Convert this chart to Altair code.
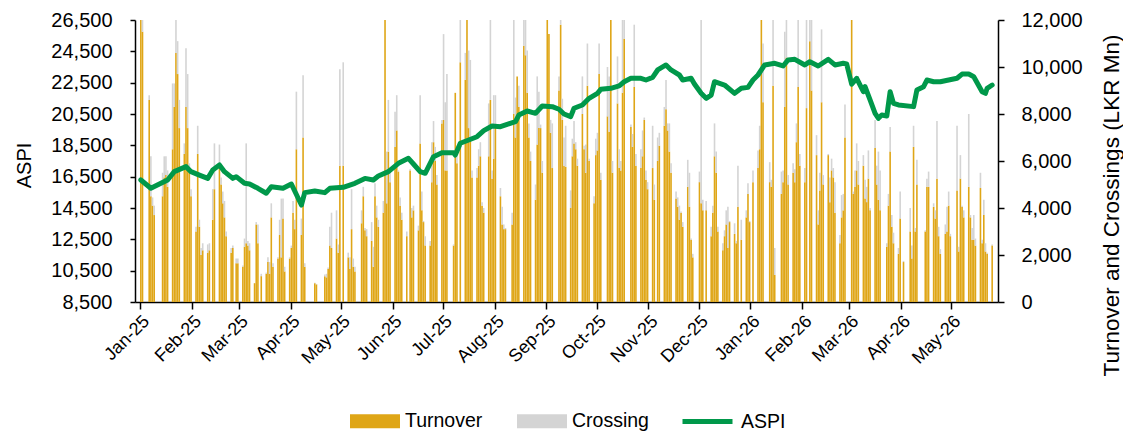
import altair as alt
import pandas as pd

GOLD = "#DFA617"
GRAY = "#D4D4D4"
GREEN = "#00984A"
FONT = "Liberation Sans"

# ---- tick labels -------------------------------------------------------
month_ticks = ["2025-01", "2025-02", "2025-03", "2025-04", "2025-05", "2025-06",
               "2025-07", "2025-08", "2025-09", "2025-10", "2025-11", "2025-12",
               "2026-01", "2026-02", "2026-03", "2026-04", "2026-05"]
aspi_ticks = [8500, 10500, 12500, 14500, 16500, 18500, 20500, 22500, 24500, 26500]
value_ticks = [0, 2000, 4000, 6000, 8000, 10000, 12000]

# ---- daily turnover / crossing (LKR Mn), one row per Mon-Fri week ------
turnover_weeks = [
    [12000, 11500, 0],
    [8600, 4500, 4100, 3700, 0],
    [0, 4500, 5300, 5400, 4900],
    [6500, 8300, 10600, 9700, 7400],
    [6300, 8300, 7400, 5600, 4500],
    [3000, 6300, 3200, 2000, 2200],
    [2100, 2200, 0, 3500, 4800],
    [5700, 5000, 4200, 3600, 2800],
    [2100, 2300, 0, 1650, 1650],
    [1500, 2350, 2500, 2400, 2200],
    [800, 3300, 2500, 0, 1100],
    [1200, 1700, 1200, 3600, 1500],
    [1850, 2850, 1900, 3550, 1300],
    [1850, 2300, 3800, 3100, 6500],
    [2850, 7000, 1500, 0, 0],
    [0, 800, 750, 0, 0],
    [1100, 1050, 1400, 2400, 2300],
    [2700, 2100, 5800, 0, 5800],
    [1900, 1400, 3100, 1500, 1300],
    [0, 3350, 4500, 3050, 2800],
    [2600, 1500, 4500, 3600, 3200],
    [3800, 12000, 4200, 6400, 5100],
    [6600, 7300, 5550, 4100, 3500],
    [2800, 0, 5600, 3600, 3900],
    [3050, 6750, 3900, 3400, 2400],
    [2400, 5100, 6800, 6000, 5000],
    [7600, 7750, 5600, 5600, 0],
    [2400, 8900, 5900, 0, 10200],
    [9450, 12000, 7400, 6900, 5300],
    [5300, 5800, 6200, 4100, 3800],
    [6200, 8600, 5250, 6100, 7500],
    [4500, 3300, 3100, 3100, 0],
    [3300, 8000, 7000, 9600, 8300],
    [10900, 10500, 8900, 7000, 6000],
    [4350, 6700, 7400, 7400, 5500],
    [12000, 11400, 7200, 5700, 0],
    [9000, 11800, 7750, 5800, 5750],
    [4000, 6200, 6750, 6500, 5800],
    [8000, 6500, 5500, 9200, 6000],
    [4200, 6250, 6450, 9700, 5200],
    [0, 7900, 7250, 12000, 5500],
    [8450, 5700, 5600, 8900, 11200],
    [0, 7450, 6600, 9150, 5800],
    [5700, 6200, 7750, 5200, 4800],
    [5700, 4350, 0, 6000, 6650],
    [7500, 8200, 7300, 6400, 5500],
    [4400, 4050, 3500, 3800, 3200],
    [4900, 4050, 2650, 1900, 0],
    [5100, 4200, 3900, 0, 3900],
    [2800, 3800, 6200, 5500, 3000],
    [2200, 2800, 3300, 2300, 3400],
    [2900, 2500, 4050, 0, 2650],
    [3600, 4600, 3400, 0, 5100],
    [5700, 6500, 12000, 8500, 0],
    [5100, 4900, 9200, 1150, 0],
    [4600, 5100, 8300, 10400, 5000],
    [5500, 5100, 6800, 9150, 5800],
    [5100, 8250, 0, 11100, 9000],
    [6250, 3300, 4750, 8500, 5000],
    [6250, 4250, 5600, 5300, 3800],
    [2500, 3600, 3900, 7000, 0],
    [12000, 4600, 4900, 5600, 5000],
    [5800, 4400, 4250, 5250, 3900],
    [6550, 5000, 4350, 3900, 0],
    [2350, 4100, 6400, 3200, 2500],
    [2050, 3550, 0, 1700, 0],
    [3000, 1850, 6600, 3000, 5000],
    [0, 0, 3000, 4900, 4900],
    [4050, 3550, 5250, 2800, 2050],
    [2900, 3000, 4100, 2800, 0],
    [4750, 2150, 5250, 4050, 3600],
    [4900, 3600, 2650, 2650, 2400],
    [4850, 2500, 3700, 2150, 2050],
    [2400],
]
crossing_weeks = [
    [400, 500, 0],
    [200, 1700, 350, 400, 0],
    [0, 1000, 900, 800, 700],
    [2800, 1000, 1600, 1400, 1200],
    [450, 2500, 2300, 300, 300],
    [200, 1200, 300, 300, 300],
    [350, 300, 0, 1300, 1950],
    [1000, 300, 500, 700, 200],
    [200, 100, 0, 200, 200],
    [50, 350, 4250, 200, 300],
    [0, 100, 800, 0, 100],
    [50, 200, 500, 600, 150],
    [50, 650, 2500, 850, 200],
    [50, 100, 500, 400, 2450],
    [700, 2650, 150, 0, 0],
    [0, 20, 20, 0, 0],
    [70, 150, 70, 800, 1500],
    [1200, 350, 4100, 0, 4400],
    [200, 500, 1700, 350, 200],
    [0, 550, 400, 100, 300],
    [800, 850, 550, 500, 300],
    [500, 0, 2200, 2200, 500],
    [1500, 1500, 50, 350, 300],
    [200, 0, 50, 400, 200],
    [200, 2050, 800, 50, 400],
    [200, 1700, 900, 600, 400],
    [150, 3650, 2900, 4100, 0],
    [50, 0, 300, 0, 1800],
    [1150, 0, 3300, 3400, 300],
    [400, 700, 600, 150, 200],
    [2250, 3400, 350, 2700, 1300],
    [350, 750, 200, 50, 0],
    [500, 4000, 1700, 0, 900],
    [1100, 1500, 1800, 600, 400],
    [650, 2900, 1550, 150, 500],
    [0, 0, 550, 1900, 0],
    [600, 200, 900, 1200, 1750],
    [750, 750, 950, 300, 300],
    [1600, 150, 1200, 1800, 100],
    [300, 700, 750, 1300, 300],
    [0, 2100, 2350, 0, 500],
    [2000, 800, 400, 3100, 800],
    [0, 100, 550, 2650, 500],
    [800, 1100, 100, 400, 300],
    [1800, 650, 0, 1000, 550],
    [800, 1250, 300, 1200, 400],
    [300, 400, 600, 50, 200],
    [1150, 1450, 50, 150, 0],
    [450, 7800, 450, 0, 400],
    [400, 300, 1400, 900, 200],
    [300, 250, 600, 1750, 50],
    [450, 100, 1750, 0, 850],
    [300, 450, 50, 0, 500],
    [750, 1000, 0, 2500, 0],
    [850, 300, 2800, 1150, 0],
    [950, 500, 3200, 1600, 400],
    [400, 550, 800, 2850, 500],
    [600, 3750, 0, 900, 3000],
    [850, 600, 750, 3100, 400],
    [50, 1050, 500, 400, 1300],
    [350, 950, 700, 1400, 0],
    [0, 100, 700, 1150, 1000],
    [450, 800, 650, 1200, 100],
    [1200, 800, 2050, 1700, 0],
    [150, 500, 1050, 500, 450],
    [250, 1150, 0, 50, 0],
    [1000, 550, 900, 150, 1050],
    [0, 0, 50, 350, 650],
    [150, 350, 2450, 400, 200],
    [400, 1050, 600, 100, 0],
    [2750, 200, 1000, 50, 300],
    [3100, 100, 500, 1050, 300],
    [650, 150, 650, 350, 50],
    [50],
]

# ---- ASPI index readings ------------------------------------------------
aspi_dates = [
    "2025-01-01", "2025-01-07", "2025-01-13", "2025-01-17", "2025-01-21", "2025-01-28",
    "2025-01-31", "2025-02-05", "2025-02-10", "2025-02-13", "2025-02-17", "2025-02-20",
    "2025-02-25", "2025-02-27", "2025-03-04", "2025-03-07", "2025-03-12", "2025-03-17",
    "2025-03-20", "2025-03-27", "2025-04-01", "2025-04-07", "2025-04-09", "2025-04-15",
    "2025-04-21", "2025-04-24", "2025-05-02", "2025-05-09", "2025-05-15", "2025-05-20",
    "2025-05-23", "2025-05-29", "2025-06-04", "2025-06-10", "2025-06-13", "2025-06-17",
    "2025-06-20", "2025-06-25", "2025-06-30", "2025-07-07", "2025-07-08", "2025-07-11",
    "2025-07-16", "2025-07-21", "2025-07-25", "2025-07-30", "2025-08-04", "2025-08-08",
    "2025-08-13", "2025-08-15", "2025-08-20", "2025-08-25", "2025-08-29", "2025-09-04",
    "2025-09-08", "2025-09-11", "2025-09-15", "2025-09-17", "2025-09-22", "2025-09-26",
    "2025-10-01", "2025-10-03", "2025-10-09", "2025-10-14", "2025-10-17", "2025-10-21",
    "2025-10-27", "2025-10-30", "2025-11-03", "2025-11-06", "2025-11-11", "2025-11-14",
    "2025-11-19", "2025-11-21", "2025-11-26", "2025-11-28", "2025-12-02", "2025-12-05",
    "2025-12-08", "2025-12-10", "2025-12-16", "2025-12-22", "2025-12-26", "2025-12-30",
    "2026-01-02", "2026-01-05", "2026-01-09", "2026-01-15", "2026-01-20", "2026-01-23",
    "2026-01-27", "2026-02-02", "2026-02-05", "2026-02-10", "2026-02-16", "2026-02-20",
    "2026-02-25", "2026-02-27", "2026-03-02", "2026-03-05", "2026-03-09", "2026-03-10",
    "2026-03-13", "2026-03-16", "2026-03-18", "2026-03-20", "2026-03-23", "2026-03-25",
    "2026-03-27", "2026-03-30", "2026-04-08", "2026-04-10", "2026-04-14", "2026-04-16",
    "2026-04-20", "2026-04-24", "2026-04-29", "2026-05-04", "2026-05-07", "2026-05-11",
    "2026-05-14", "2026-05-19", "2026-05-21", "2026-05-22", "2026-05-25",
]
aspi_values = [
    16290, 15760, 16080, 16290, 16820, 17140,
    16820, 16600, 16390, 16925, 17245, 16820,
    16390, 16500, 16076, 16030, 15757, 15440,
    15860, 15757, 16030, 14690, 15480, 15585,
    15480, 15757, 15820, 16076, 16390, 16290,
    16540, 16820, 17350, 17670, 17310, 16820,
    16715, 17775, 18030, 18030, 17880, 18630,
    18840, 19050, 19435, 19735, 19690, 19840,
    20010, 20435, 20690, 20545, 21010, 20970,
    20800, 20500, 20330, 20865, 21075, 21500,
    21820, 22075, 22140, 22290, 22560, 22780,
    22780, 22670, 22840, 23310, 23630, 23310,
    22990, 22670, 22780, 22415, 21820, 21500,
    21710, 22560, 22350, 21820, 22140, 22200,
    22670, 22990, 23630, 23735, 23565, 23950,
    23990, 23630, 23840, 23565, 23990, 23630,
    23735, 23700, 22400, 22780, 21925, 22245,
    21395, 20545, 20225, 20435, 20370, 21925,
    21180, 21075, 20970, 22030, 22245, 22670,
    22560, 22560, 22670, 22780, 23050, 23050,
    22880, 21925, 21820, 22140, 22350,
]

# ---- tables --------------------------------------------------------------
turnover = [v for w in turnover_weeks for v in w]
crossing = [v for w in crossing_weeks for v in w]
trade_dates = pd.bdate_range("2025-01-01", "2026-05-25")
n = min(len(trade_dates), len(turnover), len(crossing))

rows = []
for d, t, c in zip(trade_dates[:n], turnover[:n], crossing[:n]):
    ds = d.strftime("%Y-%m-%dT12:00:00")
    if t > 0:
        rows.append({"date": ds, "series": "Turnover", "value": t, "ord": 0})
    if c > 0:
        rows.append({"date": ds, "series": "Crossing", "value": c, "ord": 1})
bars_df = pd.DataFrame(rows)

aspi_df = pd.DataFrame({
    "date": [d + "T12:00:00" for d in aspi_dates],
    "aspi": aspi_values,
    "name": ["ASPI"] * len(aspi_values),
})

# ---- encodings -------------------------------------------------------------
x_scale = alt.Scale(domain=[alt.DateTime(year=2025, month=1, date=1),
                            alt.DateTime(year=2026, month=5, date=26)])
x_axis = alt.Axis(
    values=[alt.DateTime(year=int(m[:4]), month=int(m[5:]), date=1) for m in month_ticks],
    format="%b-%y", labelAngle=-45, labelAlign="right", labelBaseline="top",
    labelFontSize=18, labelPadding=3, tickSize=7, title=None, grid=False,
    labelOverlap=False, labelBound=False, labelFlush=False,
)

bars = alt.Chart(bars_df).mark_bar(size=1.6, clip=True).encode(
    x=alt.X("date:T", scale=x_scale, axis=x_axis),
    y=alt.Y("value:Q", stack="zero",
            scale=alt.Scale(domain=[0, 12000], nice=False),
            axis=alt.Axis(orient="right", values=value_ticks, format=",d",
                          title="Turnover and Crossings (LKR Mn)",
                          titleAngle=270, titleX=113, titleY=185,
                          titleAlign="center", titleBaseline="middle",
                          titleFontSize=22.5, titleFontWeight="normal",
                          labelFontSize=20, tickSize=6, labelPadding=17, grid=False)),
    color=alt.Color("series:N",
                    scale=alt.Scale(domain=["Turnover", "Crossing"], range=[GOLD, GRAY]),
                    legend=alt.Legend(orient="none", legendX=215, legendY=376,
                                      direction="horizontal", title=None,
                                      symbolType="M-1,-0.28L1,-0.28L1,0.28L-1,0.28Z",
                                      symbolSize=2500, symbolStrokeWidth=0,
                                      labelOffset=5, columnPadding=34,
                                      labelFontSize=19.5)),
    order=alt.Order("ord:Q", sort="ascending"),
)

line = alt.Chart(aspi_df).mark_line(strokeWidth=5, strokeJoin="round",
                                    strokeCap="round", clip=True).encode(
    x=alt.X("date:T", scale=x_scale, axis=x_axis),
    y=alt.Y("aspi:Q", scale=alt.Scale(domain=[8500, 26500], nice=False, zero=False),
            axis=alt.Axis(orient="left", values=aspi_ticks, format=",d", title="ASPI",
                          titleAngle=270, titleX=-111, titleY=145,
                          titleAlign="center", titleBaseline="middle",
                          titleFontSize=20, titleFontWeight="normal",
                          labelFontSize=20, tickSize=5, labelPadding=18, grid=False)),
    stroke=alt.Stroke("name:N", scale=alt.Scale(domain=["ASPI"], range=[GREEN]),
                      legend=alt.Legend(orient="none", legendX=545, legendY=374,
                                        direction="horizontal", title=None,
                                        symbolType="stroke", symbolSize=2500,
                                        symbolStrokeWidth=5, labelOffset=6,
                                        labelFontSize=19.5)),
)

chart = alt.layer(bars, line).resolve_scale(y="independent").properties(
    width=863, height=282,
    padding={"left": 127, "top": 12, "right": 125, "bottom": 129},
    autosize=alt.AutoSizeParams(type="none"),
).configure_view(stroke=None).configure_axis(
    domainColor="black", tickColor="black", labelColor="black", titleColor="black",
    labelFont=FONT, titleFont=FONT, domainWidth=1.5, tickWidth=1.5,
).configure_legend(labelFont=FONT, labelColor="black")

chart.save("out.html", embed_options={"renderer": "svg", "actions": False})
